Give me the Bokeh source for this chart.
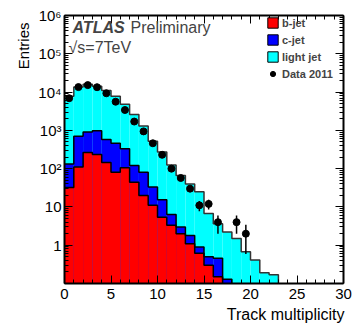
import math
import numpy as np
from bokeh.plotting import figure
from bokeh.models import (FixedTicker, LinearAxis, LogAxis, Range1d, Label,
                          Legend, LegendItem, CustomJSTickFormatter, Title)
from bokeh.embed import file_html
from bokeh.resources import INLINE

# ---------------- data ----------------
bin_edges = list(range(0, 31))
b_jet = [32, 110, 265, 235, 145, 80, 105, 44, 20, 11, 5.4, 3.3, 2.0, 1.1, 0.62,
         0.3, 0.15, 0, 0, 0, 0, 0, 0, 0, 0, 0, 0, 0, 0, 0]
c_jet = [101, 590, 635, 745, 435, 380, 225, 76, 60, 22, 10, 3.0, 1.0, 0.7, 0.28,
         0.2, 0.31, 0.13, 0, 0, 0, 0, 0, 0, 0, 0, 0, 0, 0, 0]
light_jet = [7670, 12800, 15100, 13300, 10400, 7300, 4470, 2480, 1220, 487, 255,
             119, 63, 38, 24, 6.2, 3.2, 2.1, 1.5, 0.67, 0.41, 0.19, 0.17,
             0, 0, 0, 0, 0, 0, 0]
data_2011 = [6900, 13500, 15200, 13400, 9300, 5600, 3400, 1700, 940, 460, 230,
             100, 57, 30, 11, 12, 4, 0, 4, 2, 0, 0, 0, 0, 0, 0, 0, 0, 0, 0]

x_ticks = [0, 5, 10, 15, 20, 25, 30]
x_minor = list(range(0, 31))
y_ticks = [1, 10, 100, 1000, 10000, 100000, 1000000]
y_tick_labels = ["1", "10", "10\u00b2", "10\u00b3", "10\u2074", "10\u2075", "10\u2076"]
y_minor = [m * 10.0 ** k for k in range(-1, 6) for m in range(2, 10)]

FONT = "Liberation Sans"
floor = 1e-3

# ---------------- figure ----------------
p = figure(width=357, height=329,
           x_range=Range1d(0, 30), y_range=Range1d(0.1, 1e6),
           y_axis_type="log", output_backend="svg", toolbar_location=None,
           min_border_left=64, min_border_right=14, min_border_top=15,
           min_border_bottom=46)
p.grid.visible = False
p.outline_line_color = None
p.background_fill_color = "white"
p.border_fill_color = "white"


def style(ax, labels=True):
    ax.axis_line_width = 2
    ax.axis_line_color = "black"
    ax.major_tick_in = 8
    ax.major_tick_out = 0
    ax.minor_tick_in = 4
    ax.minor_tick_out = 0
    ax.major_tick_line_color = "black"
    ax.minor_tick_line_color = "black"
    ax.major_label_text_font = FONT
    ax.major_label_text_font_size = "15px"
    ax.major_label_text_color = "black"
    if not labels:
        ax.formatter = CustomJSTickFormatter(code="return ''")
        ax.major_label_standoff = 0


p.xaxis.ticker = FixedTicker(ticks=x_ticks, minor_ticks=x_minor)
p.yaxis.ticker = FixedTicker(ticks=y_ticks, minor_ticks=y_minor)
p.yaxis.major_label_overrides = dict(zip(y_ticks, y_tick_labels))
style(p.xaxis[0])
style(p.yaxis[0])
p.xaxis.major_label_standoff = 5
p.yaxis.major_label_standoff = 3

top_ax = LinearAxis(ticker=FixedTicker(ticks=x_ticks, minor_ticks=x_minor))
style(top_ax, labels=False)
p.add_layout(top_ax, "above")
right_ax = LogAxis(ticker=FixedTicker(ticks=y_ticks, minor_ticks=y_minor))
style(right_ax, labels=False)
p.add_layout(right_ax, "right")

# axis titles (ROOT style: at the far end of each axis)
p.add_layout(Title(text="Track multiplicity", align="right", offset=-1,
                   standoff=4, text_font=FONT, text_font_size="16px",
                   text_font_style="normal", text_color="black"), "below")
p.add_layout(Title(text="Entries", align="right", offset=7, standoff=8,
                   text_font=FONT, text_font_size="15px",
                   text_font_style="normal", text_color="black"), "left")

# ---------------- texts ----------------
p.add_layout(Label(x=8, y=256, x_units="screen", y_units="screen", text="ATLAS",
                   text_font=FONT, text_font_style="bold italic",
                   text_font_size="16px", text_baseline="alphabetic"))
p.add_layout(Label(x=66, y=256, x_units="screen", y_units="screen", text="Preliminary",
                   text_font=FONT, text_font_size="16px", text_baseline="alphabetic"))
p.add_layout(Label(x=4, y=236, x_units="screen", y_units="screen", text="\u221as=7TeV",
                   text_font=FONT, text_font_size="16px", text_baseline="alphabetic"))

# ---------------- stacked histogram ----------------
edges = np.array(bin_edges, dtype=float)
left, right = edges[:-1], edges[1:]
b = np.array(b_jet, dtype=float)
c = np.array(c_jet, dtype=float)
lj = np.array(light_jet, dtype=float)
stack_b = b
stack_c = b + c
stack_l = b + c + lj


def fl(a):
    return np.where(a > 0, a, floor)


fills = {}
for name, lvl, col in [("light", stack_l, "#00ffff"),
                       ("c", stack_c, "#0000ff"),
                       ("b", stack_b, "#ff0000")]:
    p.quad(left=left, right=right, bottom=floor, top=fl(lvl),
           fill_color=col, line_color=None)
    # zero-height proxy (below the visible range) used only for the legend box
    fills[name] = p.quad(left=left[:1], right=right[:1], bottom=floor, top=floor,
                         fill_color=col, line_color="black", line_width=1)
for lvl, lc in [(stack_l, "#333333"), (stack_c, "black"), (stack_b, "black")]:
    p.step(x=edges, y=np.append(fl(lvl), floor), mode="after",
           line_color=lc, line_width=1.5)

# ---------------- data points ----------------
d = np.array(data_2011, dtype=float)
centers = (left + right) / 2
mask = d > 0
xd, nd = centers[mask], d[mask]
err = np.sqrt(nd)
p.segment(x0=xd, y0=nd - err, x1=xd, y1=nd + err, line_color="black", line_width=1.5)
data_r = p.scatter(x=xd, y=nd, size=7, marker="circle", color="black")

# ---------------- legend ----------------
legend = Legend(items=[LegendItem(label="b-jet", renderers=[fills["b"]]),
                       LegendItem(label="c-jet", renderers=[fills["c"]]),
                       LegendItem(label="light jet", renderers=[fills["light"]]),
                       LegendItem(label="Data 2011", renderers=[data_r])],
                location="top_right", glyph_width=13, glyph_height=13,
                label_height=13, label_width=60, spacing=4, padding=0, margin=1,
                label_standoff=3, label_text_font=FONT,
                label_text_font_size="11px", label_text_font_style="bold",
                border_line_color=None, background_fill_alpha=0)
p.add_layout(legend)

open("out.html", "w").write(file_html(p, INLINE))
